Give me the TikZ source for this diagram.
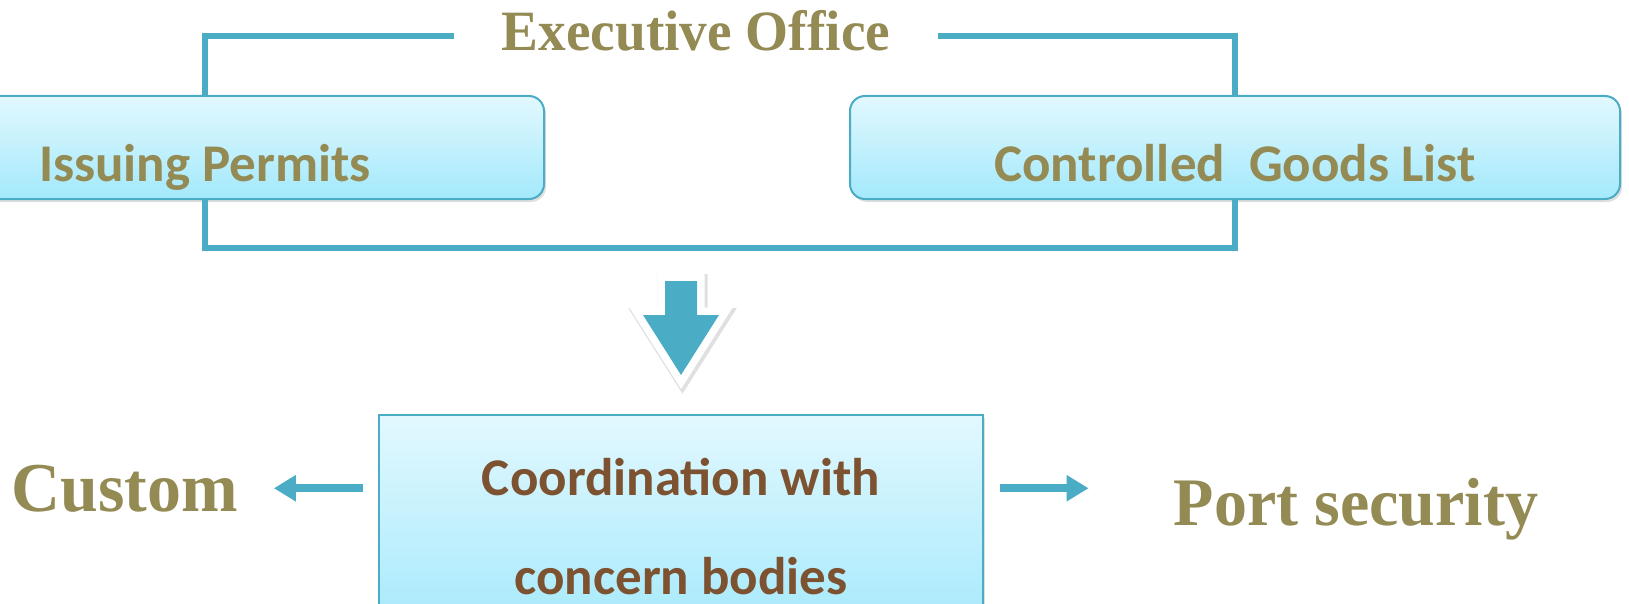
\documentclass[tikz,border=0pt]{standalone}
\usepackage{fontspec}
\setmainfont{Carlito}
\newfontfamily\headserif[FakeStretch=0.97]{Liberation Serif}
\usetikzlibrary{positioning,arrows.meta,shadows}

\definecolor{lineblue}{HTML}{4BACC6}
\definecolor{olivetext}{HTML}{948A54}
\definecolor{browntext}{HTML}{7D5230}
\definecolor{boxtop}{HTML}{E2F8FE}
\definecolor{boxbottom}{HTML}{A3E9FC}

\tikzset{
  panel/.style={draw=lineblue, line width=2pt, top color=boxtop, bottom color=boxbottom,
    drop shadow={opacity=0.25, shadow xshift=2pt, shadow yshift=-3pt}},
  roundpanel/.style={panel, rounded corners=15pt, minimum width=#1, minimum height=103pt,
    text height=69pt, text depth=0pt, inner sep=0pt,
    font=\bfseries\fontsize{53}{60}\selectfont, text=olivetext},
  bracket/.style={draw=lineblue, line width=6pt},
  sidearrow/.style={draw=lineblue, line width=8pt, -{Triangle[length=22pt,width=25pt]}},
  serifword/.style={font=\headserif\bfseries\fontsize{#1}{#1}\selectfont, text=olivetext, inner sep=0pt},
}

\begin{document}
\begin{tikzpicture}[x=1pt, y=-1pt]
    \useasboundingbox (0,0) rectangle (1629,604);
    \clip (0,0) rectangle (1629,604);

    \node [roundpanel=678pt] (permits) at (205,147.5) {Issuing Permits};
    \node [roundpanel=770pt] [right=304pt of permits] (goods) {Controlled\ \ Goods List};
    \node [serifword=57, text height=29pt, text depth=0pt, inner xsep=48pt]
      (exec) at (696,36) {Executive Office};

    \node [panel, minimum width=604pt, minimum height=224pt, align=center,
      font=\bfseries\fontsize{53}{99}\selectfont, text=browntext]
      (coord) at (681,527) {Coordination with\\concern bodies};

    \node [serifword=70, anchor=base] (custom) at (124.5,511) {Custom};
    \node [serifword=68, anchor=base] (port) at (1356,525) {Port security};

    % bracket round the two tasks
    \draw [bracket] (exec.west) -| (permits.north);
    \draw [bracket] (exec.east) -| (goods.north);
    \draw [bracket] (permits.south) -- ++(0,48) -| (goods.south);

    % big arrow down to the coordination box
    \coordinate (droptip) at ([yshift=38pt]coord.north |- 0,413);
    \draw [transform canvas={shift={(1.5pt,-2pt)}}, draw=black, draw opacity=0.12,
      line width=18pt, line join=miter]
      (droptip) -- ++(-38,-60) -- ++(22,0) -- ++(0,-34) -- ++(32,0) -- ++(0,34) -- ++(22,0) -- cycle;
    \path [preaction={draw=white, line width=15pt, line join=miter}, fill=lineblue]
      (droptip) -- ++(-38,-60) -- ++(22,0) -- ++(0,-34) -- ++(32,0) -- ++(0,34) -- ++(22,0) -- cycle;

    \draw [sidearrow, shorten <=15pt, shorten >=36pt] (coord.west |- custom.east) -- (custom.east);
    \draw [sidearrow, shorten <=16pt, shorten >=85pt] (coord.east |- custom.east) -- (port.west |- custom.east);
\end{tikzpicture}
\end{document}
